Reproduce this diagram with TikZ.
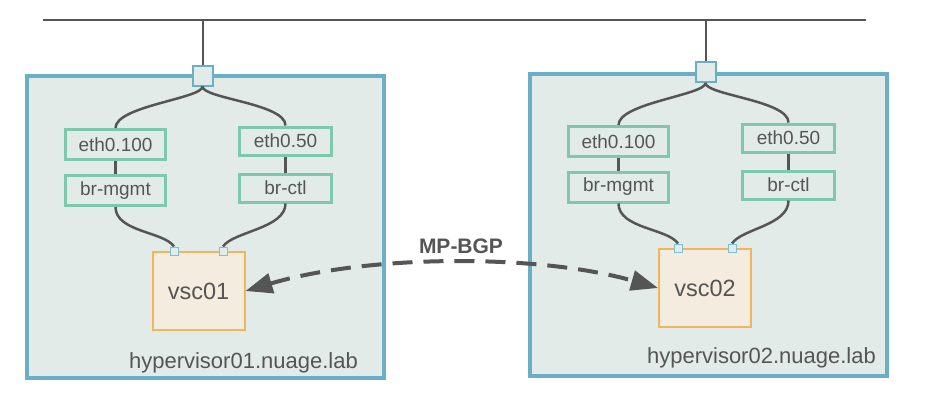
\documentclass[tikz,border=0pt]{standalone}
\usepackage{fontspec}
\setmainfont{Liberation Sans}
\usetikzlibrary{arrows.meta}
\definecolor{hvfill}{HTML}{E2EBE8}
\definecolor{hvline}{HTML}{68AFC7}
\definecolor{ifline}{HTML}{7CC9AE}
\definecolor{vscfill}{HTML}{F4ECDE}
\definecolor{vscline}{HTML}{F1B65B}
\definecolor{wire}{HTML}{555555}
\definecolor{txt}{HTML}{555555}
\definecolor{pfill}{HTML}{DDEEF3}
\definecolor{pline}{HTML}{80BED3}
\tikzset{
  hv/.style={draw=hvline, fill=hvfill, line width=4pt, inner sep=0pt},
  ifbox/.style={draw=ifline, fill=hvfill, line width=3pt, minimum width=100pt, minimum height=30pt, inner sep=0pt, text=txt, font=\fontsize{19}{21}\selectfont},
  ifsmall/.style={ifbox, minimum width=92pt, minimum height=28pt},
  vscbox/.style={draw=vscline, fill=vscfill, line width=2pt, minimum width=92pt, minimum height=78pt, inner sep=0pt, text=txt, font=\fontsize{23.5}{26}\selectfont},
  upport/.style={draw=hvline, fill=hvfill, line width=2pt, minimum size=20pt, inner sep=0pt},
  vport/.style={draw=pline, fill=pfill, line width=1pt, minimum size=8pt, inner sep=0pt},
  wireline/.style={draw=wire, line width=2.5pt},
  hvlabel/.style={text=txt, font=\fontsize{22}{24}\selectfont, inner sep=0pt},
  bgp/.style={draw=wire, line width=4pt, dash pattern=on 20pt off 11pt, {Triangle[length=27pt,width=20pt]}-{Triangle[length=27pt,width=20pt]}}
}
\begin{document}
\begin{tikzpicture}[x=1pt,y=-1pt]
\useasboundingbox (0,0) rectangle (939,402);
% top network line
\coordinate (L0) at (43,20);
\coordinate (L1) at (866,20);
\draw[draw=wire, line width=2pt] (L0) -- (L1);
% hypervisor boxes
\node[hv, minimum width=357pt, minimum height=302pt] (hv1) at (205.5,227) {};
\node[hv, minimum width=357pt, minimum height=302pt] (hv2) at (708.5,225) {};
\node[hvlabel, anchor=east] (hv1l) at (358,363) {hypervisor01.nuage.lab};
\node[hvlabel, anchor=east] (hv2l) at (876,358) {hypervisor02.nuage.lab};
% uplink ports
\node[upport] (p1) at (202.5,75.5) {};
\node[upport] (p2) at (705.5,72) {};
\coordinate (t1) at (202.5,20);
\coordinate (t2) at (705.5,20);
\draw[draw=wire, line width=2pt] (t1) -- (p1.north);
\draw[draw=wire, line width=2pt] (t2) -- (p2.north);
% left hypervisor interfaces
\node[ifbox] (e1a) at (115.5,144.5) {eth0.100};
\node[ifbox] (b1a) at (115.5,190.5) {br-mgmt};
\node[ifsmall] (e1b) at (285.5,141) {eth0.50};
\node[ifsmall] (b1b) at (285.5,188) {br-ctl};
\node[vscbox] (v1) at (198.5,291) {vsc01};
\node[vport] (v1a) at (174,251) {};
\node[vport] (v1b) at (223,251) {};
% right hypervisor interfaces
\node[ifbox] (e2a) at (618.5,141.5) {eth0.100};
\node[ifbox] (b2a) at (618.5,187) {br-mgmt};
\node[ifsmall] (e2b) at (788.5,138) {eth0.50};
\node[ifsmall] (b2b) at (788.5,185) {br-ctl};
\node[vscbox] (v2) at (705,288) {vsc02};
\node[vport] (v2a) at (678,248) {};
\node[vport] (v2b) at (732,248) {};
% wires left
\draw[wireline] (p1.south) .. controls +(0,12) and +(0,-22) .. (e1a.north);
\draw[wireline] (p1.south) .. controls +(0,12) and +(0,-22) .. (e1b.north);
\draw[wireline] (e1a.south) -- (b1a.north);
\draw[wireline] (e1b.south) -- (b1b.north);
\draw[wireline] (b1a.south) .. controls +(0,25) and +(-10,-15) .. (v1a.north);
\draw[wireline] (b1b.south) .. controls +(0,25) and +(10,-15) .. (v1b.north);
% wires right
\draw[wireline] (p2.south) .. controls +(0,12) and +(0,-22) .. (e2a.north);
\draw[wireline] (p2.south) .. controls +(0,12) and +(0,-22) .. (e2b.north);
\draw[wireline] (e2a.south) -- (b2a.north);
\draw[wireline] (e2b.south) -- (b2b.north);
\draw[wireline] (b2a.south) .. controls +(0,25) and +(-10,-15) .. (v2a.north);
\draw[wireline] (b2b.south) .. controls +(0,25) and +(10,-15) .. (v2b.north);
% redraw ports on top
\node[vport] at (v1a) {};
\node[vport] at (v1b) {};
\node[vport] at (v2a) {};
\node[vport] at (v2b) {};
% MP-BGP
\draw[bgp] (v1.east) .. controls (370,254) and (540,254) .. (v2.west);
\node[text=txt, font=\bfseries\fontsize{21}{23}\selectfont] (bgpl) at (461,246) {MP-BGP};
\end{tikzpicture}
\end{document}
